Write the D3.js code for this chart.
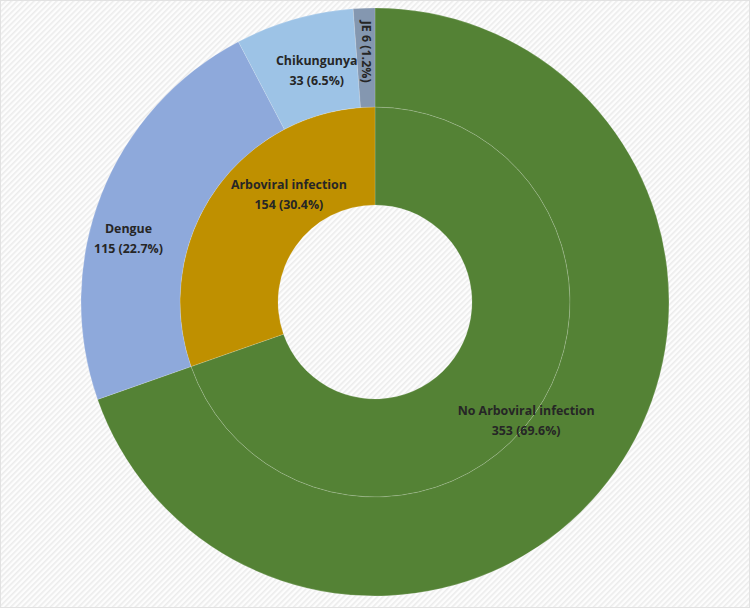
<!DOCTYPE html>
<html>
<head>
<meta charset="utf-8">
<script src="https://cdn.jsdelivr.net/npm/d3@7"></script>
<style>
  html, body { margin: 0; padding: 0; background: #fff; }
  #chart { width: 750px; height: 608px; }
  text { font-family: "Open Sans", "Noto Sans", sans-serif; font-weight: 700; fill: #262626; }
</style>
</head>
<body>
<div id="chart"></div>
<script>
// data
const innerNames = ["No Arboviral infection", "Arboviral infection"];
const innerValues = [353, 154];
const outerNames = ["No Arboviral infection", "Dengue", "Chikungunya", "JE"];
const outerValues = [353, 115, 33, 6];

const innerColors = ["#548235", "#BF9000"];
const outerColors = ["#548235", "#8EA9DB", "#9DC3E6", "#8497B0"];

// label nudges from the arc centroid (Excel-style placement)
const innerNudge = [[32, 31], [33, -26]];
const outerNudge = [null, [-19, 23], [9, 1], [1, -6]];

const W = 750, H = 608;
const cx = 375, cy = 302;
const rHole = 97, rMid = 195, rOuter = 294;
const fontSize = 12.4;

const svg = d3.select("#chart")
  .append("svg")
  .attr("width", W)
  .attr("height", H);

// striped background
const defs = svg.append("defs");
const pat = defs.append("pattern")
  .attr("id", "stripes")
  .attr("width", 4).attr("height", 4)
  .attr("patternUnits", "userSpaceOnUse")
  .attr("patternTransform", "rotate(45)");
pat.append("rect").attr("width", 4).attr("height", 4).attr("fill", "#fdfdfd");
pat.append("rect").attr("width", 1.6).attr("height", 4).attr("fill", "#ececec");

svg.append("rect")
  .attr("width", W).attr("height", H)
  .attr("fill", "url(#stripes)");
svg.append("rect")
  .attr("x", 0.5).attr("y", 0.5)
  .attr("width", W - 1).attr("height", H - 1)
  .attr("fill", "none").attr("stroke", "#e2e2e2");

const g = svg.append("g")
  .attr("transform", "translate(" + cx + "," + cy + ")");

const total = d3.sum(innerValues);
const pct = v => (v / total * 100).toFixed(1) + "%";

const pie = d3.pie().sort(null).value(d => d);

const innerArc = d3.arc().innerRadius(rHole).outerRadius(rMid);
const outerArc = d3.arc().innerRadius(rMid).outerRadius(rOuter);

const innerData = pie(innerValues);
const outerData = pie(outerValues);

g.selectAll("path.inner")
  .data(innerData)
  .enter()
  .append("path")
  .attr("class", "inner")
  .attr("d", innerArc)
  .attr("fill", (d, i) => innerColors[i])
  .attr("stroke", "rgba(255,255,255,0.22)")
  .attr("stroke-width", 0.7);

g.selectAll("path.outer")
  .data(outerData)
  .enter()
  .append("path")
  .attr("class", "outer")
  .attr("d", outerArc)
  .attr("fill", (d, i) => outerColors[i])
  .attr("stroke", "rgba(255,255,255,0.22)")
  .attr("stroke-width", 0.7);

// inner labels
innerData.forEach((d, i) => {
  const c = innerArc.centroid(d);
  const x = c[0] + innerNudge[i][0], y = c[1] + innerNudge[i][1];
  const t = g.append("text")
    .attr("text-anchor", "middle")
    .attr("font-size", fontSize)
    .attr("y", y);
  t.append("tspan").attr("x", x).attr("dy", "-0.2em").text(innerNames[i]);
  t.append("tspan").attr("x", x).attr("dy", "1.6em")
    .text(innerValues[i] + " (" + pct(innerValues[i]) + ")");
});

// outer labels (the green outer slice carries no label)
outerData.forEach((d, i) => {
  if (!outerNudge[i]) return;
  const c = outerArc.centroid(d);
  const x = c[0] + outerNudge[i][0], y = c[1] + outerNudge[i][1];
  if (outerNames[i] === "JE") {
    g.append("text")
      .attr("text-anchor", "middle")
      .attr("dominant-baseline", "central")
      .attr("font-size", fontSize)
      .attr("transform", "translate(" + x + "," + y + ") rotate(90)")
      .text(outerNames[i] + " " + outerValues[i] + " (" + pct(outerValues[i]) + ")");
    return;
  }
  const t = g.append("text")
    .attr("text-anchor", "middle")
    .attr("font-size", fontSize)
    .attr("y", y);
  t.append("tspan").attr("x", x).attr("dy", "-0.2em").text(outerNames[i]);
  t.append("tspan").attr("x", x).attr("dy", "1.6em")
    .text(outerValues[i] + " (" + pct(outerValues[i]) + ")");
});
</script>
</body>
</html>
